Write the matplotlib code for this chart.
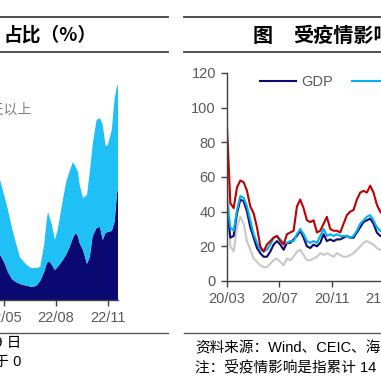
import matplotlib
matplotlib.use("Agg")
import matplotlib.pyplot as plt
import matplotlib.dates as mdates
from matplotlib.lines import Line2D
import pandas as pd

plt.rcParams['font.family'] = ['Liberation Sans', 'Noto Sans CJK SC', 'DejaVu Sans']

############################################################
# INPUT

# left panel: stacked share (%)
left_dates = ['2022-04-17', '2022-04-24', '2022-05-01', '2022-05-08', '2022-05-15',
              '2022-05-22', '2022-05-29', '2022-06-05', '2022-06-12', '2022-06-19',
              '2022-06-27', '2022-07-04', '2022-07-11', '2022-07-16', '2022-07-18',
              '2022-07-21', '2022-07-25', '2022-07-30', '2022-08-04', '2022-08-11',
              '2022-08-19', '2022-08-26', '2022-08-31', '2022-09-05', '2022-09-09',
              '2022-09-12', '2022-09-18', '2022-09-25', '2022-09-30', '2022-10-05',
              '2022-10-12', '2022-10-18', '2022-10-23', '2022-10-28', '2022-11-01',
              '2022-11-08', '2022-11-13', '2022-11-17', '2022-11-19']
left_dark = [21.8, 20.5, 17.3, 12.7, 9.5, 8.2, 7.3, 6.8, 6.4, 5.9,
             6.4, 8.6, 12.7, 16.8, 17.3, 17.3, 15.9, 13.6, 15.0, 17.3,
             20.5, 24.5, 28.2, 30.5, 29.1, 25.9, 22.7, 16.4, 19.5, 29.1,
             32.7, 33.2, 27.3, 30.5, 30.9, 31.4, 35.5, 47.7, 51.4]
left_light = [35.0, 34.0, 30.4, 28.2, 23.2, 17.7, 12.2, 10.5, 9.1, 8.6,
              8.1, 6.4, 12.3, 20.5, 22.7, 20.0, 18.2, 13.7, 16.8, 25.0,
              33.1, 34.6, 34.5, 30.0, 29.1, 26.4, 23.7, 31.3, 38.7, 41.4,
              49.1, 49.5, 52.2, 39.5, 39.6, 45.9, 56.3, 49.1, 46.3]
left_ticks = ['2022-05-01', '2022-08-01', '2022-11-01']

# right panel: share affected by epidemic
right_dates = pd.date_range('2020-03-01', '2021-02-28', periods=48)
gdp = [42, 25, 26, 39, 47, 46, 40, 31, 25, 19, 16, 14, 14, 17, 21, 23, 21, 18, 22, 22,
       24, 26, 29, 25, 20, 19, 21, 20, 22, 27, 23, 24, 23, 24, 24, 25, 26, 25, 25, 28,
       31, 34, 35, 36, 33, 28, 26, 26]
pop = [46, 31, 29, 41, 49, 48, 43, 35, 27, 22, 18, 17, 18, 21, 25, 26, 24, 22, 22, 23,
       23, 27, 30, 27, 23, 22, 23, 22, 26, 30, 26, 27, 26, 27, 26, 26, 26, 25, 26, 29,
       33, 35, 37, 38, 35, 31, 29, 28]
red_s = [89, 45, 42, 54, 58, 57, 52, 43, 39, 31, 20, 17, 21, 23, 25, 26, 23, 21, 27, 28,
         29, 43, 47, 42, 35, 34, 35, 28, 29, 33, 37, 30, 29, 29, 28, 33, 38, 40, 41, 47,
         51, 52, 51, 55, 51, 44, 40, 38]
gray_s = [75, 20, 17, 31, 37, 33, 23, 18, 13, 11, 9, 8, 8, 10, 12, 13, 11, 9, 13, 12,
          14, 17, 18, 15, 12, 12, 13, 14, 16, 15, 16, 15, 14, 16, 15, 14, 14, 15, 16, 18,
          20, 22, 23, 22, 21, 19, 18, 17]
right_ticks = ['2020-03-01', '2020-07-01', '2020-11-01', '2021-03-01']
right_labels = ['GDP', '人口', '社零', '工业']

# END INPUT
############################################################

navy = '#0A0A72'
sky = '#1EC0F5'
txt = '#595959'
axc = '#404040'
cjk = ['Noto Sans CJK SC', 'Liberation Sans']
mixed = ['Liberation Sans', 'Noto Sans CJK SC']

fig = plt.figure(figsize=(3.81, 3.81), dpi=100)

# header / footer rules
for y in (1 - 17/381, 1 - 52/381):
    fig.add_artist(Line2D([0, 168/381], [y, y], color=axc, lw=1.3))
    fig.add_artist(Line2D([184/381, 1], [y, y], color=axc, lw=1.3))
yb = 1 - 333/381
fig.add_artist(Line2D([0, 168/381], [yb, yb], color=txt, lw=1.0))
fig.add_artist(Line2D([184/381, 1], [yb, yb], color=txt, lw=1.0))

fig.text(3/381, 1 - 35/381, '占比（%）', fontsize=13.5, fontweight='bold',
         family=cjk, va='center', ha='left', color='black')
fig.text(253/381, 1 - 35/381, '图', fontsize=14.5, fontweight='bold',
         family=cjk, va='center', ha='left', color='black')
fig.text(293/381, 1 - 35/381, '受疫情影响城市占比', fontsize=14.5, fontweight='bold',
         family=cjk, va='center', ha='left', color='black')

# left panel
ld = pd.to_datetime(left_dates)
axl = fig.add_axes([-3.8/381, 81/381, 121.8/381, 220/381])
axl.stackplot(ld, left_dark, left_light, colors=[navy, sky], linewidth=0)
axl.set_xlim(pd.Timestamp('2022-04-17'), pd.Timestamp('2022-11-19'))
axl.set_ylim(0, 100)
for s in ('top', 'right', 'left'):
    axl.spines[s].set_visible(False)
axl.spines['bottom'].set_color(axc)
axl.spines['bottom'].set_linewidth(1.0)
axl.set_yticks([])
axl.set_xticks(pd.to_datetime(left_ticks))
axl.xaxis.set_major_formatter(mdates.DateFormatter('%y/%m'))
axl.tick_params(axis='x', direction='out', length=4, width=1, color=axc,
                labelsize=10.5, labelcolor=txt, pad=4)
axl.set_facecolor('none')

fig.text(32/381, 1 - 110/381, '7天以上', fontsize=10, color='#7F7F7F',
         family=cjk, ha='right', va='center')
fig.text(21/381, 1 - 343/381, '截至2022年11月19 日', fontsize=10.5,
         family=mixed, ha='right', va='center', color='black')
fig.text(21/381, 1 - 362/381, '注：新增病例大于 0', fontsize=10.5,
         family=mixed, ha='right', va='center', color='black')

# right panel
axr = fig.add_axes([227/381, 100/381, 196.5/381, 208/381])
axr.plot(right_dates, gray_s, color='#C8C8C8', lw=1.5)
h1, = axr.plot(right_dates, gdp, color=navy, lw=1.5)
h2, = axr.plot(right_dates, pop, color='#00B0F0', lw=1.5)
h3, = axr.plot(right_dates, red_s, color='#C00000', lw=1.5)
axr.set_xlim(pd.Timestamp('2020-03-01'), pd.Timestamp('2021-06-01'))
axr.set_ylim(0, 120)
axr.set_yticks(range(0, 121, 20))
axr.set_xticks(pd.to_datetime(right_ticks))
axr.xaxis.set_major_formatter(mdates.DateFormatter('%y/%m'))
for s in ('top', 'right'):
    axr.spines[s].set_visible(False)
for s in ('left', 'bottom'):
    axr.spines[s].set_color(axc)
    axr.spines[s].set_linewidth(1.0)
axr.tick_params(direction='out', length=4, width=1, color=axc,
                labelsize=10.5, labelcolor=txt, pad=4)
axr.set_facecolor('none')

h4 = Line2D([], [], color='#C8C8C8', lw=1.5)
leg = fig.legend([h1, h2, h3, h4], right_labels, loc='center left',
                 bbox_to_anchor=(260/381, 1 - 82/381), ncol=4, frameon=False,
                 handlelength=2.5, handletextpad=0.3,
                 columnspacing=1.3, borderpad=0, borderaxespad=0,
                 prop={'family': mixed, 'size': 10.5})
for t in leg.get_texts():
    t.set_color(txt)

fig.text(195/381, 1 - 348/381, '资料来源：Wind、CEIC、海通证券研究所', fontsize=10.5,
         family=mixed, ha='left', va='center', color='black')
fig.text(195/381, 1 - 367/381, '注：受疫情影响是指累计 14 天新增病例大于 0', fontsize=10.5,
         family=mixed, ha='left', va='center', color='black')

fig.savefig('out.png', dpi=100)
